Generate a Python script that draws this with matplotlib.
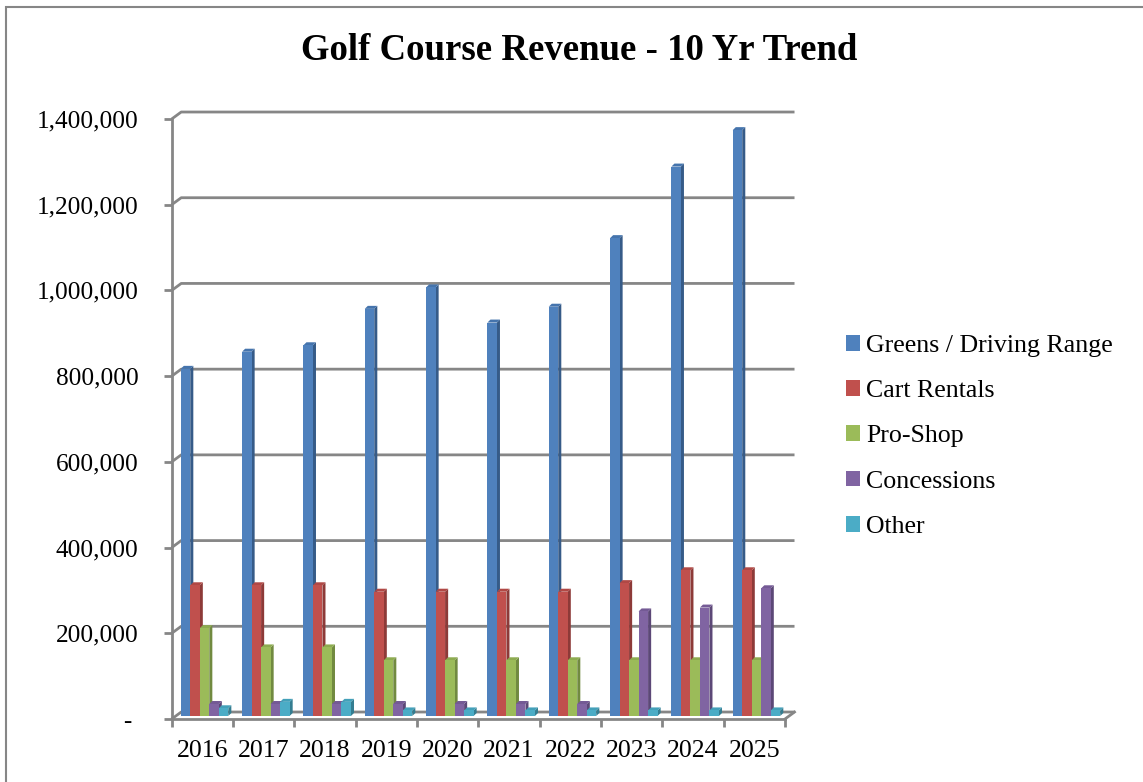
import numpy as np
import matplotlib
matplotlib.use("Agg")
import matplotlib.pyplot as plt
from matplotlib.patches import Polygon, Patch, Rectangle

plt.rcParams["font.family"] = ["Liberation Serif", "DejaVu Serif"]

YEARS = ["2016", "2017", "2018", "2019", "2020", "2021", "2022", "2023", "2024", "2025"]
SERIES = ["Greens / Driving Range", "Cart Rentals", "Pro-Shop", "Concessions", "Other"]
GREENS = [810000, 850000, 865000, 950000, 1000000, 918000, 955000, 1115000, 1282000, 1367000]
CART = [305000, 305000, 305000, 290000, 290000, 290000, 290000, 310000, 340000, 340000]
PROSHOP = [205000, 160000, 160000, 130000, 130000, 130000, 130000, 130000, 130000, 130000]
CONCESSIONS = [28000, 28000, 28000, 28000, 28000, 28000, 28000, 244000, 253000, 298000]
OTHER = [18000, 33000, 33000, 13000, 13000, 13000, 13000, 13000, 13000, 13000]
YTICKS = [0, 200000, 400000, 600000, 800000, 1000000, 1200000, 1400000]

FRONT = ["#4F81BD", "#C0504D", "#9BBB59", "#8064A2", "#4BACC6"]
SIDE = ["#365B88", "#8D3A38", "#718A40", "#5C4877", "#347D91"]
TOP = ["#4574AD", "#B04845", "#8DAB50", "#745A95", "#43A0B9"]
GRID = "#868686"

fig = plt.figure(figsize=(11.43, 7.82), dpi=100)
ax = fig.add_axes([171.7 / 1143, 63 / 782, 613.3 / 1143, 600 / 782])
ax.set_xlim(-0.5, 9.5)
ax.set_ylim(0, 1400000)

# depth of back wall / bars (data units)
WDX, WDY = 0.155, 16300
BDX, BDY = 0.05, 7000
BX0, BASE = 0.035, 7000
W = 0.155

# back wall gridlines with the little diagonal to the left axis
for v in YTICKS:
    ax.plot([-0.5, -0.5 + WDX, 9.5 + WDX], [v, v + WDY, v + WDY],
            color=GRID, lw=2, clip_on=False, zorder=1, solid_capstyle="butt")
ax.plot([9.5, 9.5 + WDX], [0, WDY], color=GRID, lw=2, clip_on=False, zorder=1)

values = [GREENS, CART, PROSHOP, CONCESSIONS, OTHER]
x = np.arange(len(YEARS))
for k, vals in enumerate(values):
    xs = x + BX0 + (k - 2.5) * W
    z = 3 + k
    for xl, v in zip(xs, vals):
        top = BASE + v
        ax.add_patch(Polygon([(xl + W, BASE), (xl + W, top), (xl + W + BDX, top + BDY),
                              (xl + W + BDX, BASE + BDY)], closed=True,
                             fc=SIDE[k], ec="none", zorder=z, clip_on=False))
        ax.add_patch(Polygon([(xl, top), (xl + W, top), (xl + W + BDX, top + BDY),
                              (xl + BDX, top + BDY)], closed=True,
                             fc=TOP[k], ec="none", zorder=z, clip_on=False))
    ax.bar(xs, vals, width=W, bottom=BASE, align="edge", color=FRONT[k],
           edgecolor="none", zorder=z, clip_on=False)

for s in ["top", "right"]:
    ax.spines[s].set_visible(False)
for s in ["left", "bottom"]:
    ax.spines[s].set_color(GRID)
    ax.spines[s].set_linewidth(2)
    ax.spines[s].set_zorder(10)

ax.set_yticks(YTICKS)
ax.set_yticklabels(["- "] + [f"{v:,}" for v in YTICKS[1:]])
ax.tick_params(axis="y", length=6, width=2, color=GRID, labelsize=18.2, pad=18)
ax.set_xticks(x)
ax.set_xticklabels(YEARS)
ax.set_xticks(np.arange(-0.5, 10, 1), minor=True)
ax.tick_params(axis="x", which="major", length=0, labelsize=18.6, pad=15)
ax.tick_params(axis="x", which="minor", length=6, width=2, color=GRID)

fig.text(579 / 1143, 1 - 51 / 782, "Golf Course Revenue - 10 Yr Trend",
         ha="center", va="center", fontsize=26.5, fontweight="bold")

handles = [Patch(fc=c, ec="none") for c in FRONT]
fig.legend(handles, SERIES, loc="upper left", bbox_to_anchor=(833 / 1143, 1 - 322 / 782),
           frameon=False, fontsize=18.6, handlelength=0.56, handleheight=0.56,
           handletextpad=0.22, labelspacing=0.9, borderpad=0)

# chart border (cropped at right / bottom in the source)
fig.add_artist(Rectangle((6 / 1143, -0.1), 1.2, 1 - 7 / 782 + 0.1, transform=fig.transFigure,
                         fill=False, ec=GRID, lw=1.5))

fig.savefig("out.png", dpi=100)
